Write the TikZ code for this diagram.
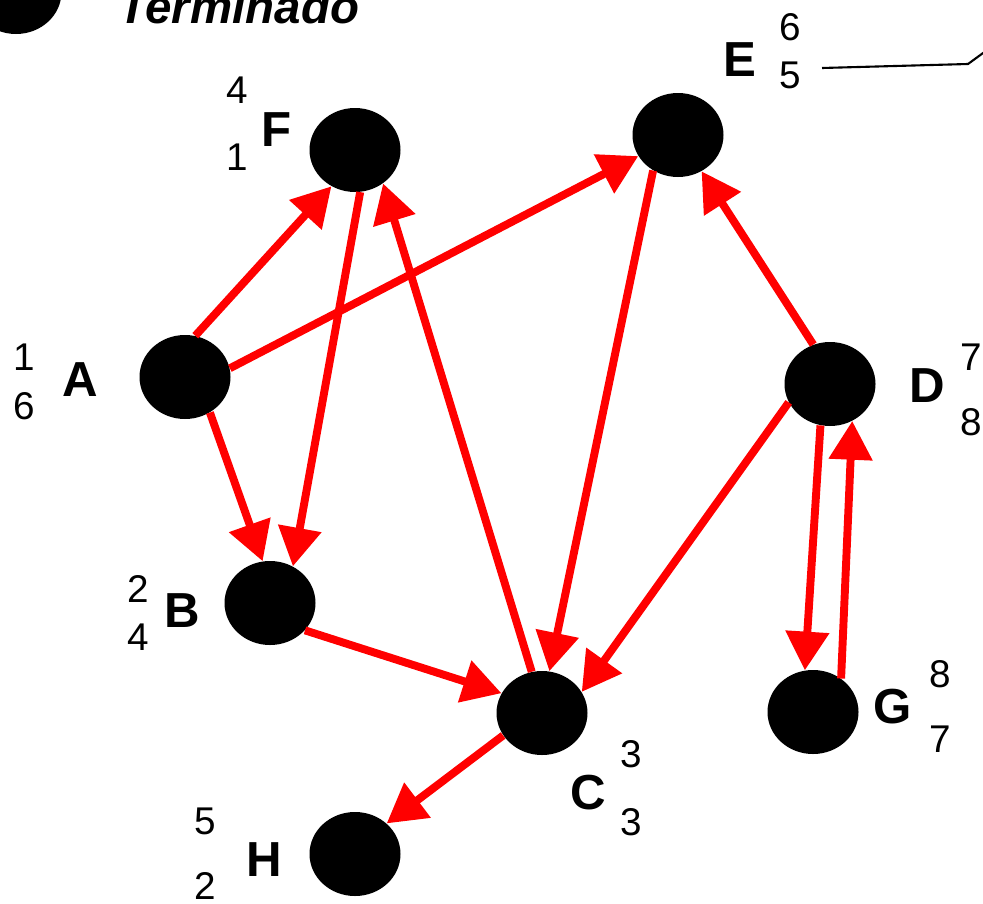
\documentclass[tikz,border=0pt]{standalone}
\usepackage{fontspec}
\setmainfont{Liberation Sans}
\usetikzlibrary{arrows.meta, shapes.geometric}

\begin{document}
\begin{tikzpicture}[
    x=0.2mm, y=-0.2mm,
    vertex/.style={
        ellipse,
        fill=black,
        minimum width=1.82cm,
        minimum height=1.68cm,
        inner sep=0pt
    },
    vname/.style={
        font=\fontsize{28}{28}\selectfont\bfseries,
        inner sep=0pt
    },
    vtime/.style={
        font=\fontsize{22}{22}\selectfont,
        inner sep=0pt
    },
    edge/.style={
        draw=red,
        line width=4.5pt,
        -{Triangle[length=22pt, width=24pt]}
    }
]
\useasboundingbox (0,0) rectangle (983,903);
\clip (0,0) rectangle (983,903);

% Legend (cut at the top)
\node[vertex] (legend) at (16,-8) {};
\node[font=\fontsize{27}{27}\selectfont\bfseries\itshape, inner sep=0pt,
      anchor=base west] (legtext) at (118,23) {Terminado};

% Vertices
\foreach \v/\x/\y in {A/185/377, B/270/603, C/542/713, D/830/384,
                      E/678/135, F/355/150, G/813/712, H/355/854} {
    \node[vertex] (\v) at (\x,\y) {};
}

% Vertex names
\foreach \v/\x/\y in {A/80/380, B/182/611, C/588/793, D/927/386,
                      E/740/60, F/277/130, G/893/707, H/264/860} {
    \node[vname] (n\v) at (\x,\y) {\v};
}

% Discovery / finish times
\foreach \v/\x/\ya/\a/\yb/\b in {A/24/357/1/406/6, B/138/589/2/637/4,
                                 C/631/754/3/822/3, D/971/357/7/422/8,
                                 E/790/27/6/75/5, F/237/90/4/157/1,
                                 G/940/674/8/739/7, H/205/821/5/886/2} {
    \node[vtime] (d\v) at (\x,\ya) {\a};
    \node[vtime] (f\v) at (\x,\yb) {\b};
}

% Edges
\foreach \s/\t in {A.76/F.237, A.11/E.208, A.305/B.100, F.277/B.58,
                   C.104/F.310, E.235/C.80, D.113/E.303, D.204/C.28,
                   D.257/G.101, G.50/D.301, B.322/C.154, C.210/H.44} {
    \draw[edge] (\s) -- (\t);
}

% Pointer line from E (leaves the picture)
\coordinate (lnk) at (822,68);
\coordinate (bend) at (968,64);
\coordinate (out) at (1005,37);
\draw[line width=1.2pt] (lnk) -- (bend) -- (out);
\end{tikzpicture}
\end{document}
